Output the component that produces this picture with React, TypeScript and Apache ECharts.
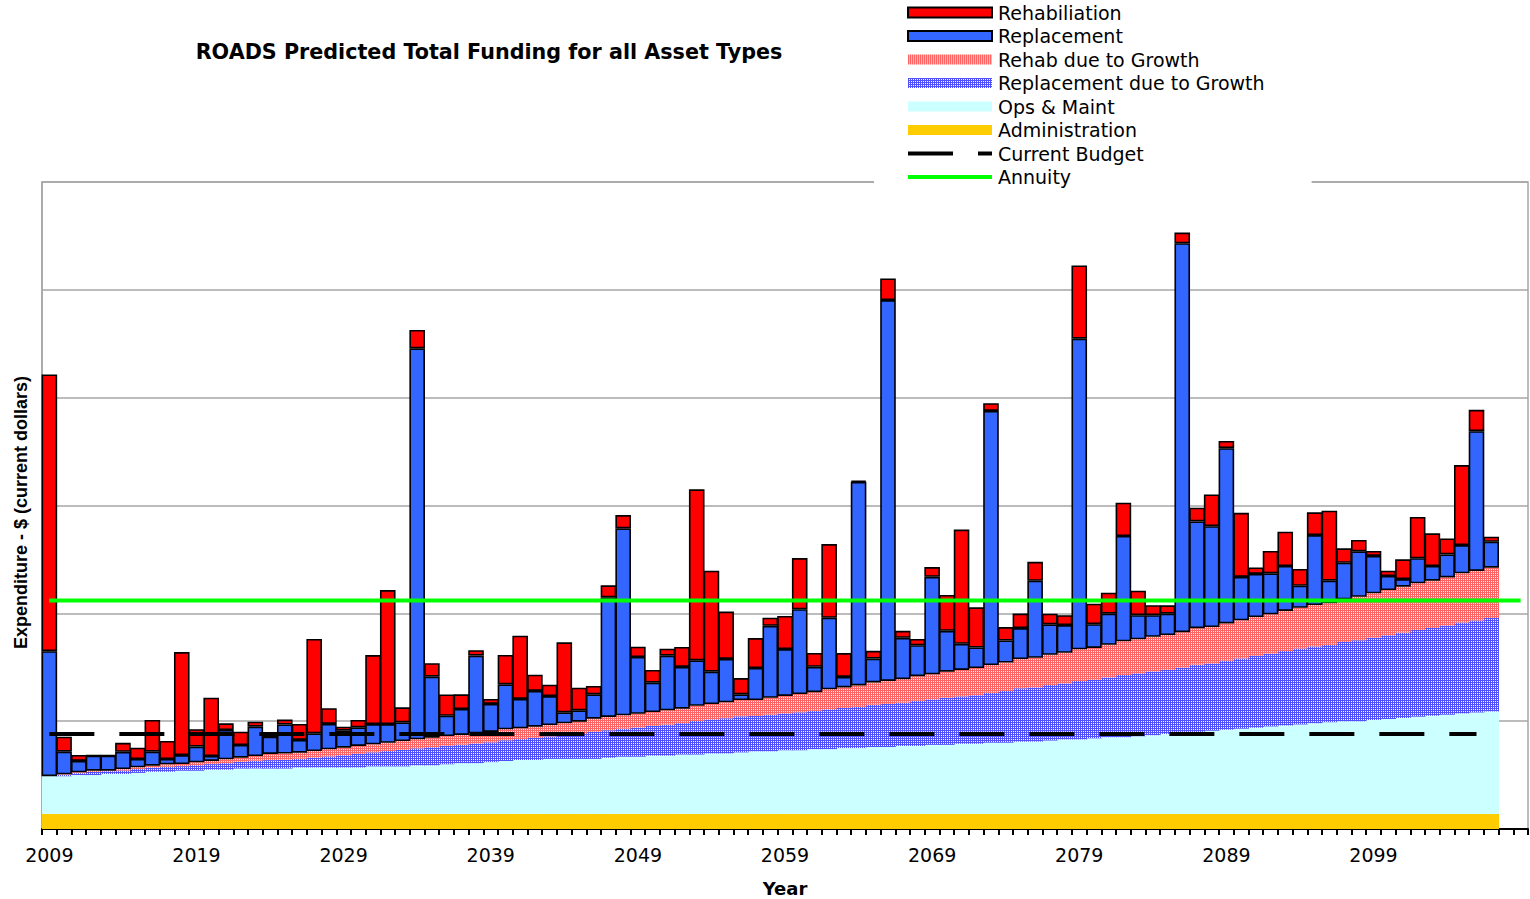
import React, { useEffect, useRef } from "react";
import * as echarts from "echarts";

const years = [
  "2009","2010","2011","2012","2013","2014","2015","2016","2017","2018",
  "2019","2020","2021","2022","2023","2024","2025","2026","2027","2028",
  "2029","2030","2031","2032","2033","2034","2035","2036","2037","2038",
  "2039","2040","2041","2042","2043","2044","2045","2046","2047","2048",
  "2049","2050","2051","2052","2053","2054","2055","2056","2057","2058",
  "2059","2060","2061","2062","2063","2064","2065","2066","2067","2068",
  "2069","2070","2071","2072","2073","2074","2075","2076","2077","2078",
  "2079","2080","2081","2082","2083","2084","2085","2086","2087","2088",
  "2089","2090","2091","2092","2093","2094","2095","2096","2097","2098",
  "2099","2100","2101","2102","2103","2104","2105","2106","2107","2108",
  "2109",
];

const administration = [
  0.14,0.14,0.14,0.14,0.14,0.14,0.14,0.14,0.14,0.14,
  0.14,0.14,0.14,0.14,0.14,0.14,0.14,0.14,0.14,0.14,
  0.14,0.14,0.14,0.14,0.14,0.14,0.14,0.14,0.14,0.14,
  0.14,0.14,0.14,0.14,0.14,0.14,0.14,0.14,0.14,0.14,
  0.14,0.14,0.14,0.14,0.14,0.14,0.14,0.14,0.14,0.14,
  0.14,0.14,0.14,0.14,0.14,0.14,0.14,0.14,0.14,0.14,
  0.14,0.14,0.14,0.14,0.14,0.14,0.14,0.14,0.14,0.14,
  0.14,0.14,0.14,0.14,0.14,0.14,0.14,0.14,0.14,0.14,
  0.14,0.14,0.14,0.14,0.14,0.14,0.14,0.14,0.14,0.14,
  0.14,0.14,0.14,0.14,0.14,0.14,0.14,0.14,0.14,
];

const opsMaint = [
  0.35,0.35,0.36,0.36,0.37,0.37,0.38,0.39,0.39,0.40,
  0.40,0.41,0.41,0.42,0.42,0.42,0.42,0.43,0.43,0.43,
  0.43,0.43,0.44,0.44,0.44,0.45,0.45,0.46,0.47,0.47,
  0.48,0.49,0.50,0.50,0.51,0.51,0.51,0.51,0.52,0.53,
  0.53,0.54,0.54,0.55,0.55,0.56,0.56,0.57,0.58,0.58,
  0.59,0.59,0.60,0.60,0.61,0.61,0.62,0.62,0.63,0.63,
  0.64,0.64,0.65,0.65,0.66,0.66,0.67,0.67,0.68,0.69,
  0.69,0.70,0.71,0.71,0.72,0.73,0.74,0.75,0.76,0.77,
  0.78,0.79,0.80,0.81,0.82,0.83,0.84,0.85,0.86,0.86,
  0.87,0.88,0.89,0.90,0.91,0.92,0.93,0.94,0.95,
];

const replacementGrowth = [
  0.000,0.012,0.018,0.029,0.026,0.032,0.036,0.040,0.048,0.043,
  0.052,0.052,0.061,0.063,0.072,0.079,0.082,0.081,0.092,0.103,
  0.114,0.126,0.131,0.143,0.154,0.158,0.168,0.172,0.172,0.183,
  0.184,0.194,0.194,0.205,0.209,0.220,0.231,0.251,0.256,0.260,
  0.271,0.276,0.288,0.292,0.311,0.316,0.327,0.335,0.328,0.340,
  0.342,0.352,0.355,0.370,0.372,0.382,0.392,0.399,0.401,0.418,
  0.422,0.437,0.440,0.451,0.462,0.480,0.496,0.503,0.515,0.520,
  0.542,0.543,0.556,0.578,0.583,0.591,0.596,0.606,0.624,0.625,
  0.640,0.652,0.666,0.676,0.690,0.703,0.713,0.717,0.734,0.750,
  0.764,0.777,0.791,0.805,0.814,0.827,0.845,0.853,0.866,
];

const rehabGrowth = [
  0.000,0.005,0.008,0.012,0.005,0.014,0.016,0.017,0.022,0.020,
  0.027,0.029,0.035,0.038,0.045,0.057,0.058,0.057,0.061,0.066,
  0.070,0.074,0.074,0.077,0.082,0.084,0.089,0.090,0.090,0.095,
  0.096,0.101,0.100,0.104,0.105,0.110,0.114,0.122,0.123,0.124,
  0.128,0.129,0.133,0.134,0.142,0.143,0.148,0.151,0.148,0.157,
  0.162,0.170,0.174,0.186,0.191,0.199,0.207,0.214,0.218,0.229,
  0.233,0.242,0.245,0.252,0.259,0.264,0.270,0.274,0.281,0.284,
  0.295,0.296,0.302,0.313,0.316,0.321,0.323,0.329,0.338,0.338,
  0.346,0.353,0.360,0.365,0.372,0.379,0.384,0.386,0.396,0.404,
  0.412,0.419,0.426,0.434,0.439,0.446,0.456,0.460,0.467,
];

const replacement = [
  1.159,0.210,0.105,0.139,0.139,0.160,0.077,0.130,0.049,0.083,
  0.145,0.046,0.272,0.118,0.272,0.160,0.269,0.118,0.164,0.235,
  0.158,0.173,0.188,0.173,0.173,3.626,0.566,0.188,0.241,0.720,
  0.260,0.417,0.272,0.331,0.269,0.102,0.106,0.226,1.110,1.734,
  0.526,0.272,0.506,0.387,0.421,0.300,0.402,0.053,0.297,0.667,
  0.435,0.786,0.235,0.663,0.097,1.889,0.221,3.532,0.384,0.287,
  0.904,0.379,0.242,0.190,2.356,0.204,0.287,0.715,0.282,0.257,
  2.880,0.220,0.289,0.976,0.224,0.201,0.198,3.607,0.990,0.935,
  1.626,0.403,0.399,0.380,0.417,0.204,0.649,0.210,0.339,0.421,
  0.346,0.130,0.071,0.232,0.136,0.213,0.262,1.296,0.241,
];

const rehabilitation = [
  2.566,0.139,0.056,0.000,0.000,0.083,0.105,0.294,0.167,0.955,
  0.161,0.541,0.062,0.123,0.046,0.010,0.046,0.148,0.875,0.146,
  0.037,0.068,0.640,1.243,0.139,0.170,0.124,0.198,0.136,0.050,
  0.046,0.272,0.587,0.151,0.105,0.649,0.210,0.077,0.111,0.123,
  0.096,0.118,0.065,0.185,1.586,0.937,0.439,0.151,0.278,0.076,
  0.307,0.474,0.128,0.683,0.221,0.010,0.072,0.200,0.065,0.058,
  0.090,0.332,1.060,0.373,0.072,0.125,0.135,0.176,0.099,0.092,
  0.679,0.191,0.195,0.309,0.227,0.092,0.077,0.099,0.128,0.294,
  0.066,0.594,0.060,0.207,0.318,0.155,0.211,0.649,0.134,0.105,
  0.046,0.049,0.183,0.383,0.303,0.148,0.742,0.198,0.046,
];

const currentBudget = [["2009", 0.88], ["2106", 0.88]];
const annuity = [["2009", 2.12], ["2109", 2.12]];

const legendNames = [
  "Rehabiliation",
  "Replacement",
  "Rehab due to Growth",
  "Replacement due to Growth",
  "Ops & Maint",
  "Administration",
  "Current Budget",
  "Annuity",
];

const FONT = "'DejaVu Sans', sans-serif";

function makePattern(main: string, dot: string) {
  const c = document.createElement("canvas");
  c.width = 2;
  c.height = 2;
  const g = c.getContext("2d")!;
  g.fillStyle = main;
  g.fillRect(0, 0, 2, 2);
  g.fillStyle = dot;
  g.fillRect(1, 1, 1, 1);
  return { image: c.toDataURL(), repeat: "repeat", imageWidth: 2, imageHeight: 2 } as any;
}

export default function App() {
  const ref = useRef<HTMLDivElement>(null);
  useEffect(() => {
    if (!ref.current) return;
    const chart = echarts.init(ref.current, undefined, { renderer: "svg" });
    const redHatch = makePattern("#ff6464", "#ffffff");
    const blueHatch = makePattern("#5050ff", "#ffffff");
    const option: any = {
      animation: false,
      backgroundColor: "#ffffff",
      title: {
        text: "ROADS Predicted Total Funding for all Asset Types",
        left: 489,
        top: 41,
        textAlign: "center",
        padding: 0,
        textStyle: { fontFamily: FONT, fontSize: 20.7, fontWeight: "bold", color: "#000" },
      },
      legend: {
        orient: "vertical",
        left: 874,
        top: 0,
        padding: [3, 47, 4, 32],
        backgroundColor: "#ffffff",
        itemWidth: 84,
        itemHeight: 10,
        itemGap: 4.5,
        selectedMode: false,
        textStyle: { fontFamily: FONT, fontSize: 19, lineHeight: 19, color: "#000", padding: [0, 0, 0, 1] },
        data: [
          { name: legendNames[0], icon: "rect" },
          { name: legendNames[1], icon: "rect" },
          { name: legendNames[2], icon: "rect" },
          { name: legendNames[3], icon: "rect" },
          { name: legendNames[4], icon: "rect" },
          { name: legendNames[5], icon: "rect" },
          {
            name: legendNames[6],
            itemStyle: { opacity: 0 },
            lineStyle: { width: 4, color: "#000", type: [45, 25] },
          },
          {
            name: legendNames[7],
            itemStyle: { opacity: 0 },
            lineStyle: { width: 4, color: "#00ff00" },
          },
        ],
      },
      grid: {
        left: 42,
        right: 2,
        top: 182,
        bottom: 70,
        show: true,
        borderColor: "#a6a6a6",
        borderWidth: 1.5,
        backgroundColor: "transparent",
        containLabel: false,
        outerBoundsMode: "none",
      },
      xAxis: {
        type: "category",
        data: years,
        boundaryGap: true,
        name: "Year",
        nameLocation: "middle",
        nameGap: 50,
        nameTextStyle: { fontFamily: FONT, fontSize: 18, fontWeight: "bold", color: "#000" },
        axisLine: { show: true, lineStyle: { color: "#000", width: 2 } },
        axisTick: { show: true, interval: 0, length: 6, lineStyle: { color: "#000", width: 2 } },
        axisLabel: {
          interval: (index: number) => index % 10 === 0 && index < 100,
          fontFamily: FONT,
          fontSize: 19,
          color: "#000",
          margin: 16,
        },
        splitLine: { show: false },
      },
      yAxis: {
        type: "value",
        min: 0,
        max: 6,
        interval: 1,
        name: "Expenditure - $ (current dollars)",
        nameLocation: "middle",
        nameGap: 12,
        nameTextStyle: {
          fontFamily: "'Liberation Sans Narrow', 'Liberation Sans', Arial, sans-serif",
          fontSize: 18,
          fontWeight: "bold",
          color: "#000",
          padding: [0, 14, 0, 0],
        },
        axisLine: { show: true, lineStyle: { color: "#a6a6a6", width: 1.5 } },
        axisTick: { show: false },
        axisLabel: { show: false },
        splitLine: { show: true, lineStyle: { color: "#a6a6a6", width: 1.5 } },
      },
      series: [
        {
          name: "Administration",
          type: "bar",
          stack: "total",
          barCategoryGap: "0%",
          barWidth: 15.6,
          data: administration,
          itemStyle: { color: "#ffcc00" },
        },
        {
          name: "Ops & Maint",
          type: "bar",
          stack: "total",
          barWidth: 15.6,
          data: opsMaint,
          itemStyle: { color: "#ccffff" },
        },
        {
          name: "Replacement due to Growth",
          type: "bar",
          stack: "total",
          barWidth: 15.6,
          data: replacementGrowth,
          itemStyle: { color: blueHatch },
        },
        {
          name: "Rehab due to Growth",
          type: "bar",
          stack: "total",
          barWidth: 15.6,
          data: rehabGrowth,
          itemStyle: { color: redHatch },
        },
        {
          name: "Replacement",
          type: "bar",
          stack: "total",
          barWidth: 15.6,
          data: replacement,
          itemStyle: { color: "#3366ff", borderColor: "#000", borderWidth: 1.6 },
        },
        {
          name: "Rehabiliation",
          type: "bar",
          stack: "total",
          barWidth: 15.6,
          data: rehabilitation,
          itemStyle: { color: "#ff0000", borderColor: "#000", borderWidth: 1.6 },
        },
        {
          name: "Current Budget",
          type: "line",
          data: currentBudget,
          symbol: "none",
          itemStyle: { color: "#000" },
          lineStyle: { color: "#000", width: 4, type: [45, 25] },
          z: 5,
        },
        {
          name: "Annuity",
          type: "line",
          data: annuity,
          symbol: "none",
          itemStyle: { color: "#00ff00" },
          lineStyle: { color: "#00ff00", width: 4 },
          z: 5,
        },
      ],
    };
    chart.setOption(option);
    return () => chart.dispose();
  }, []);
  return (
    <div
      ref={ref}
      style={{ position: "fixed", left: 0, top: 0, width: 1530, height: 899, background: "#fff" }}
    />
  );
}
